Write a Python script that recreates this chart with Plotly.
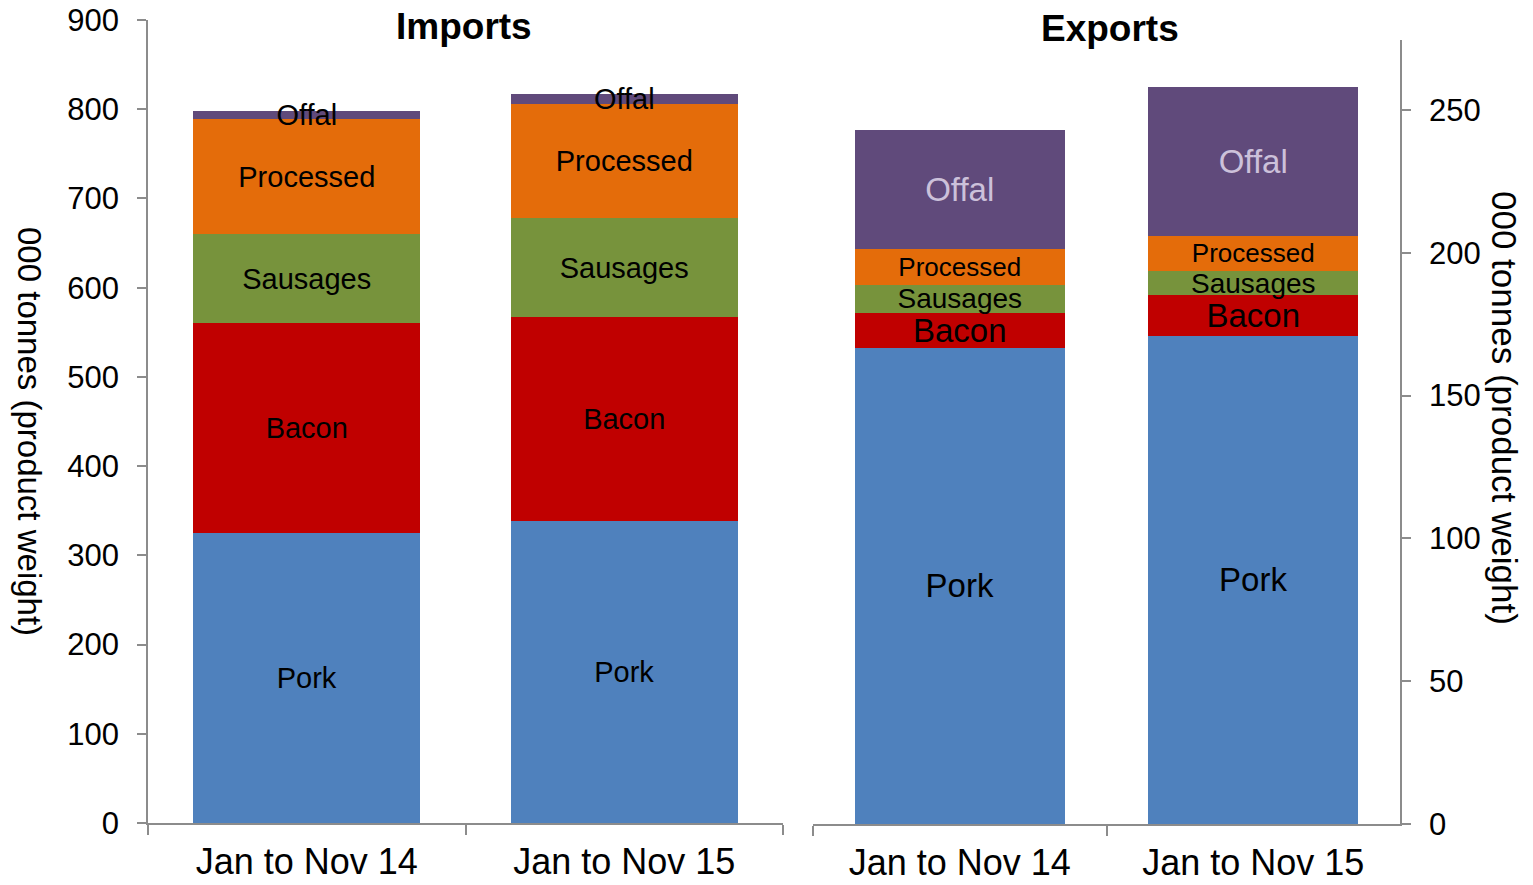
import plotly.graph_objects as go

# ---- data ----
periods = ["Jan to Nov 14", "Jan to Nov 15"]
series_names = ["Pork", "Bacon", "Sausages", "Processed", "Offal"]

imports_pork = [325, 338]
imports_bacon = [235, 229]
imports_sausages = [100, 111]
imports_processed = [129, 128]
imports_offal = [9, 11]

exports_pork = [166.7, 170.9]
exports_bacon = [12.3, 14.3]
exports_sausages = [9.8, 8.4]
exports_processed = [12.6, 12.3]
exports_offal = [41.7, 52.2]

left_ticks = [0, 100, 200, 300, 400, 500, 600, 700, 800, 900]
right_ticks = [0, 50, 100, 150, 200, 250]

y_title = "000 tonnes (product weight)"

# ---- styling ----
colors = {
    "Pork": "#4F81BD",
    "Bacon": "#C00000",
    "Sausages": "#77933C",
    "Processed": "#E46C0A",
    "Offal": "#604A7B",
}
W, H = 1533, 885
FONT = "Liberation Sans, Arial, sans-serif"
AXIS_GRAY = "#8C8C8C"

imports = [imports_pork, imports_bacon, imports_sausages, imports_processed, imports_offal]
exports = [exports_pork, exports_bacon, exports_sausages, exports_processed, exports_offal]
export_sizes = {"Pork": 33, "Bacon": 33, "Sausages": 28, "Processed": 26, "Offal": 33}

fig = go.Figure()
for name, vals in zip(series_names, imports):
    fig.add_trace(go.Bar(
        x=periods, y=vals, name=name, xaxis="x", yaxis="y",
        marker=dict(color=colors[name], line=dict(width=0)),
        text=[name] * len(vals), texttemplate="%{text}",
        textposition="inside", insidetextanchor="middle", textangle=0,
        constraintext="none",
        insidetextfont=dict(family=FONT, size=29, color="black"),
        showlegend=False, hoverinfo="skip",
    ))
for name, vals in zip(series_names, exports):
    fig.add_trace(go.Bar(
        x=periods, y=vals, name=name, xaxis="x2", yaxis="y2",
        marker=dict(color=colors[name], line=dict(width=0)),
        text=[name] * len(vals), texttemplate="%{text}",
        textposition="inside", insidetextanchor="middle", textangle=0,
        constraintext="none",
        insidetextfont=dict(family=FONT, size=export_sizes[name],
                            color="#CCC1DA" if name == "Offal" else "black"),
        showlegend=False, hoverinfo="skip",
    ))

def px_x(p):
    return p / W

def px_y(p):
    return 1 - p / H

common_x = dict(
    type="category", showline=True, linecolor=AXIS_GRAY, linewidth=1.5,
    ticks="outside", tickson="boundaries", ticklen=10, tickcolor=AXIS_GRAY, tickwidth=1.5,
    tickfont=dict(family=FONT, size=36, color="black"), ticklabelstandoff=6,
    showgrid=False, zeroline=False, automargin=False, fixedrange=True,
)
common_y = dict(
    showline=True, linecolor=AXIS_GRAY, linewidth=1.5,
    ticks="outside", ticklen=9, tickcolor=AXIS_GRAY, tickwidth=1.5,
    tickfont=dict(family=FONT, size=31, color="black"), ticklabelstandoff=12,
    showgrid=False, zeroline=False, automargin=False, fixedrange=True,
)

fig.update_layout(
    template="none",
    width=W, height=H,
    margin=dict(l=0, r=0, t=0, b=0),
    paper_bgcolor="white", plot_bgcolor="white",
    barmode="stack", bargap=0.285,
    font=dict(family=FONT, color="black"),
    xaxis=dict(domain=[px_x(148), px_x(783)], anchor="y", **common_x),
    yaxis=dict(domain=[px_y(823), px_y(20)], anchor="x", range=[0, 900],
               tickvals=left_ticks, **common_y),
    xaxis2=dict(domain=[px_x(813), px_x(1400)], anchor="y2", **common_x),
    yaxis2=dict(domain=[px_y(824), px_y(40)], anchor="x2", side="right",
                range=[0, 274.5], tickvals=right_ticks, **common_y),
    annotations=[
        dict(text="<b>Imports</b>", x=px_x(464), y=px_y(27), xref="paper", yref="paper",
             xanchor="center", yanchor="middle", showarrow=False,
             font=dict(family=FONT, size=37, color="black")),
        dict(text="<b>Exports</b>", x=px_x(1110), y=px_y(29), xref="paper", yref="paper",
             xanchor="center", yanchor="middle", showarrow=False,
             font=dict(family=FONT, size=37, color="black")),
        dict(text=y_title, x=px_x(30), y=px_y(431), xref="paper", yref="paper",
             xanchor="center", yanchor="middle", showarrow=False, textangle=90,
             font=dict(family=FONT, size=33, color="black")),
        dict(text=y_title, x=px_x(1505), y=px_y(408), xref="paper", yref="paper",
             xanchor="center", yanchor="middle", showarrow=False, textangle=90,
             font=dict(family=FONT, size=35, color="black")),
    ],
)

fig.write_html("out.html", config={"displayModeBar": False},
               post_script="document.body.style.margin='0';")
